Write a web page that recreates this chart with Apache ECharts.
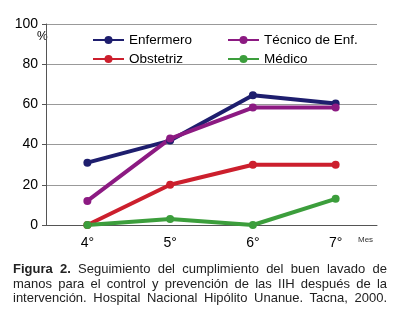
<!DOCTYPE html>
<html>
<head>
<meta charset="utf-8">
<script src="https://cdn.jsdelivr.net/npm/echarts@6/dist/echarts.min.js"></script>
<style>
  body { margin: 0; background: #fff; }
  #wrap { position: relative; width: 400px; height: 322px; }
  #chart { position: absolute; left: 0; top: 0; width: 400px; height: 322px; }
  #caption {
    position: absolute; left: 13px; top: 262px; width: 374px;
    font-family: "Liberation Sans", Arial, sans-serif; font-size: 13px;
    line-height: 14.5px; color: #222;
  }
  #caption div { text-align: justify; text-align-last: justify; white-space: nowrap; }
  #caption b { font-weight: bold; }
</style>
</head>
<body>
<div id="wrap">
  <div id="chart"></div>
  <div id="caption">
    <div><b>Figura 2.</b> Seguimiento del cumplimiento del buen lavado de</div>
    <div>manos para el control y prevención de las IIH después de la</div>
    <div>intervención. Hospital Nacional Hipólito Unanue. Tacna, 2000.</div>
  </div>
</div>
<script>
  var meses = ["4°", "5°", "6°", "7°"];
  var enfermero = [31, 42, 64.5, 60.5];
  var tecnico = [12, 43, 58.4, 58.4];
  var obstetriz = [0, 20, 30, 30];
  var medico = [0, 3, 0, 13];

  var myChart = echarts.init(document.getElementById("chart"));
  var font = "Liberation Sans, Arial, sans-serif";

  function serie(name, data, color) {
    return {
      name: name,
      type: "line",
      data: data,
      symbol: "circle",
      symbolSize: 8,
      lineStyle: { width: 4, color: color },
      itemStyle: { color: color },
      animation: false,
    };
  }

  function legend(name, left, top) {
    return {
      data: [name],
      left: left,
      top: top,
      padding: 0,
      itemWidth: 31,
      itemHeight: 10,
      itemGap: 5,
      textStyle: { fontFamily: font, fontSize: 13.5, color: "#000" },
    };
  }

  myChart.setOption({
    grid: { left: 46, right: 23, top: 24, bottom: 97 },
    legend: [
      legend("Enfermero", 92, 33),
      legend("Técnico de Enf.", 227, 33),
      legend("Obstetriz", 92, 52),
      legend("Médico", 227, 52),
    ],
    xAxis: {
      type: "category",
      data: meses,
      axisLine: { lineStyle: { color: "#555", width: 1 } },
      axisTick: { length: 4, lineStyle: { color: "#555" } },
      axisLabel: { fontFamily: font, fontSize: 14, color: "#000", margin: 11 },
    },
    yAxis: {
      type: "value",
      min: 0,
      max: 100,
      interval: 20,
      axisLine: { show: true, lineStyle: { color: "#555", width: 1 } },
      axisTick: { show: true, length: 4, lineStyle: { color: "#555" } },
      axisLabel: { fontFamily: font, fontSize: 14, color: "#000", margin: 8 },
      splitLine: { lineStyle: { color: "#999", width: 1 } },
    },
    graphic: [
      { type: "text", left: 37, top: 31, style: { text: "%", font: "12px " + font, fill: "#000" } },
      { type: "text", left: 358, top: 236, style: { text: "Mes", font: "8px " + font, fill: "#333" } },
    ],
    series: [
      serie("Enfermero", enfermero, "#1e1e6e"),
      serie("Técnico de Enf.", tecnico, "#8c1a82"),
      serie("Obstetriz", obstetriz, "#cc1f2d"),
      serie("Médico", medico, "#3c9e3c"),
    ],
  });
  window.addEventListener("resize", function () {
    myChart.resize();
  });
</script>
</body>
</html>
